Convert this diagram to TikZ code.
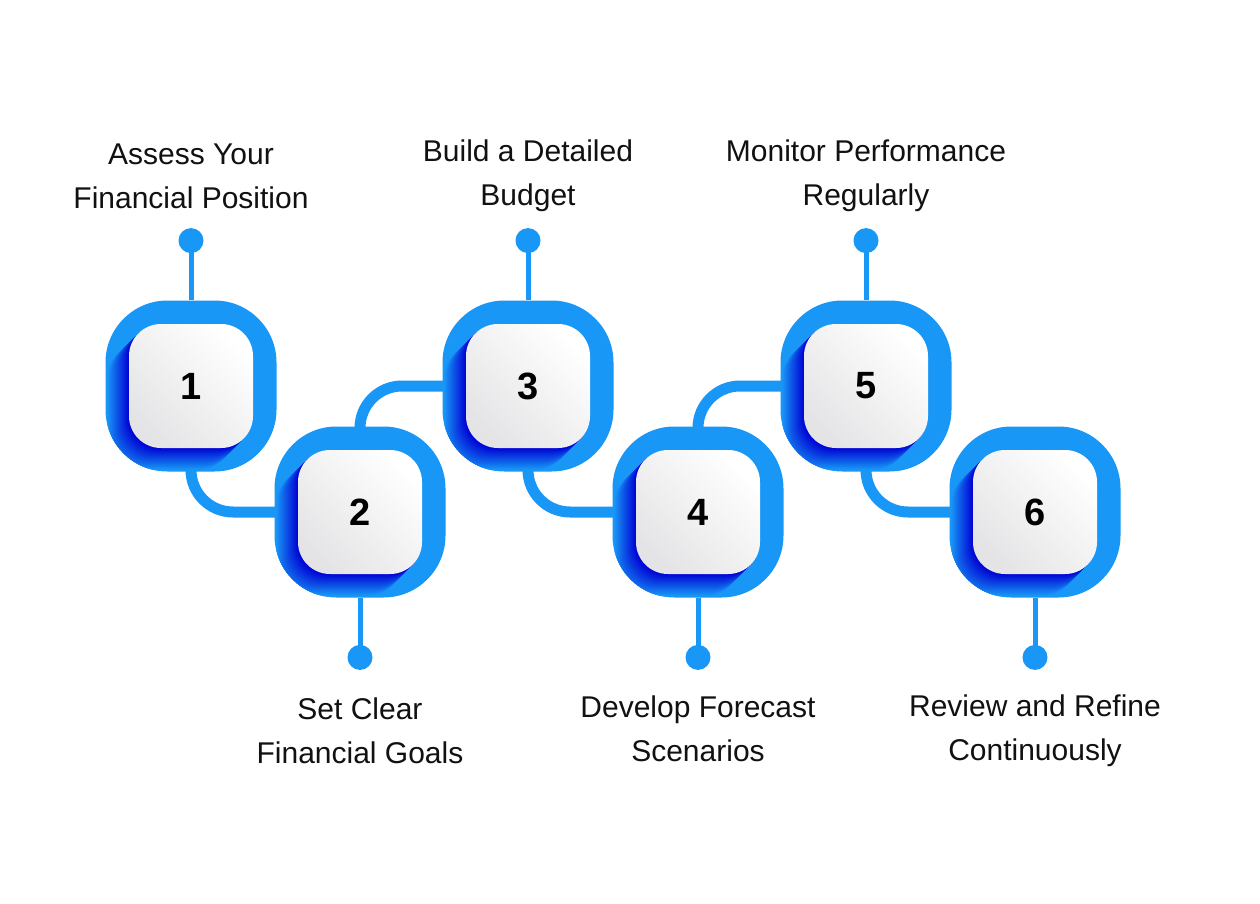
\documentclass[tikz,border=0pt]{standalone}
\usepackage{fontspec}
\setmainfont{Liberation Sans}
\usepackage{xcolor}
\usepackage{tikz}
\usetikzlibrary{positioning,backgrounds}
\definecolor{StepBlue}{HTML}{1897F6}
\definecolor{StepDark}{HTML}{0000D4}
\definecolor{TileGray}{HTML}{E4E4E6}
\definecolor{StepInk}{HTML}{111111}

\begin{document}
\begin{tikzpicture}[
  x=1pt,y=-1pt,
  ring/.style={minimum size=171,rounded corners=62,fill=StepBlue,inner sep=0,
    path picture={\foreach \k in {22,...,1}{
      \pgfmathsetmacro{\m}{100-\k*4.5}
      \fill[rounded corners=32,StepDark!\m!StepBlue]
        ([xshift=-62pt-\k pt,yshift=-62pt-\k pt]path picture bounding box.center)
        rectangle ++(124,-124);}}},
  tile/.style={minimum size=124,rounded corners=32,inner sep=0,top color=white,bottom color=TileGray,shading angle=-45,
    font=\fontsize{38}{38}\selectfont\bfseries,text=black},
  dot/.style={circle,fill=StepBlue,minimum size=25,inner sep=0},
  stem/.style={StepBlue,line width=5},
  link/.style={StepBlue,line width=11,rounded corners=42},
  caption/.style={align=center,text=StepInk,font=\fontsize{30}{44}\selectfont}
]
\useasboundingbox (0,0) rectangle (1260,904);
\node[ring] (s1) at (191,386) {};
\node[tile] (n1) at (s1) {1};
\node[dot,above=47pt of s1] (d1) {};
\draw[stem] (d1.center) -- (s1.north);
\node[caption] at (191,176) {Assess Your\\Financial Position};
\node[ring] (s2) at (360,512) {};
\node[tile] (n2) at (s2) {2};
\node[dot,below=47pt of s2] (d2) {};
\draw[stem] (d2.center) -- (s2.south);
\node[caption] at (360,731) {Set Clear\\Financial Goals};
\node[ring] (s3) at (528,386) {};
\node[tile] (n3) at (s3) {3};
\node[dot,above=47pt of s3] (d3) {};
\draw[stem] (d3.center) -- (s3.north);
\node[caption] at (528,176) {Build a Detailed\\Budget};
\node[ring] (s4) at (698,512) {};
\node[tile] (n4) at (s4) {4};
\node[dot,below=47pt of s4] (d4) {};
\draw[stem] (d4.center) -- (s4.south);
\node[caption] at (698,729) {Develop Forecast\\Scenarios};
\node[ring] (s5) at (866,386) {};
\node[tile] (n5) at (s5) {5};
\node[dot,above=47pt of s5] (d5) {};
\draw[stem] (d5.center) -- (s5.north);
\node[caption] at (866,176) {Monitor Performance\\Regularly};
\node[ring] (s6) at (1035,512) {};
\node[tile] (n6) at (s6) {6};
\node[dot,below=47pt of s6] (d6) {};
\draw[stem] (d6.center) -- (s6.south);
\node[caption] at (1035,731) {Review and Refine\\Continuously};
% links between the steps
\begin{scope}[on background layer]
\fill[white] (0,0) rectangle (1260,904);
\draw[link] (s1.center) |- (s2.center);
\draw[link] (s2.center) |- (s3.center);
\draw[link] (s3.center) |- (s4.center);
\draw[link] (s4.center) |- (s5.center);
\draw[link] (s5.center) |- (s6.center);
\end{scope}
\end{tikzpicture}
\end{document}
